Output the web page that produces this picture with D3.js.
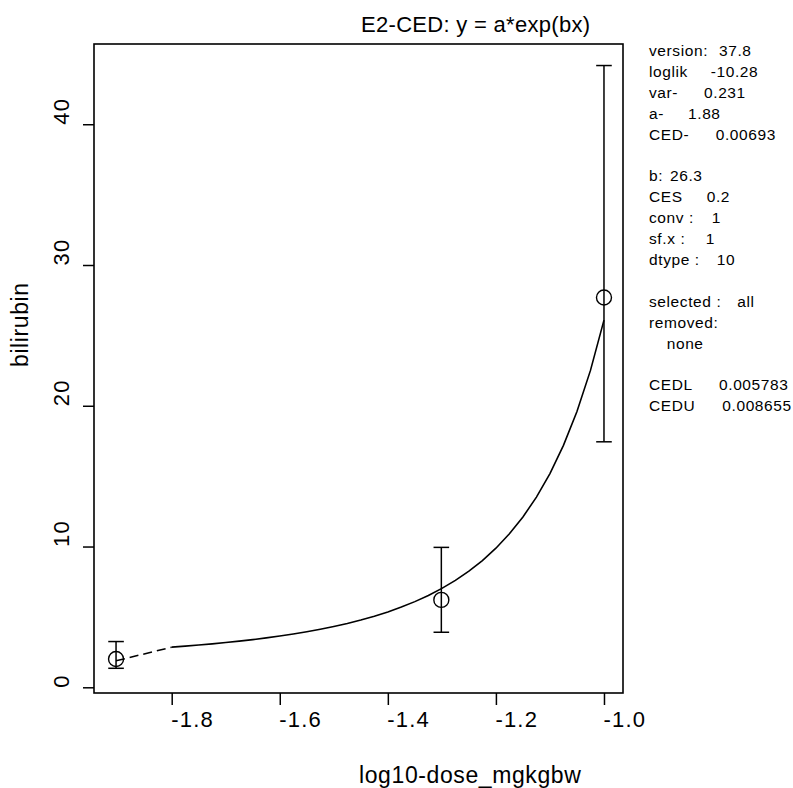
<!DOCTYPE html>
<html><head><meta charset="utf-8">
<script src="https://cdn.jsdelivr.net/npm/d3@7"></script>
<style>
body{margin:0;background:#fff}
text{font-family:"Liberation Sans",Arial,Helvetica,sans-serif;fill:#000}
</style>
</head><body>
<svg id="chart" width="793" height="788"></svg>
<script>
// ---- data ----
const obsLogDose = [-1.903, -1.301, -1.0];
const obsMean    = [2.01, 6.21, 27.69];
const obsLower   = [1.35, 3.91, 17.44];
const obsUpper   = [3.25, 9.94, 44.17];

const curveLogDose = [-1.800,-1.775,-1.750,-1.725,-1.700,-1.675,-1.650,-1.625,-1.600,-1.575,-1.550,-1.525,-1.500,-1.475,-1.450,-1.425,-1.400,-1.375,-1.350,-1.325,-1.300,-1.275,-1.250,-1.225,-1.200,-1.175,-1.150,-1.125,-1.100,-1.075,-1.050,-1.025,-1.000];
const curveValue   = [2.852,2.924,3.001,3.085,3.177,3.278,3.387,3.508,3.640,3.785,3.945,4.122,4.319,4.537,4.780,5.052,5.356,5.699,6.086,6.525,7.024,7.595,8.250,9.005,9.882,10.903,12.100,13.511,15.186,17.188,19.594,22.514,26.083];

const dashLogDose = [-1.903, -1.800];
const dashValue   = [1.88, 2.852];

const xTicks = [-1.8, -1.6, -1.4, -1.2, -1.0];
const xTickLabels = ["-1.8", "-1.6", "-1.4", "-1.2", "-1.0"];
const yTicks = [0, 10, 20, 30, 40];
const yTickLabels = ["0", "10", "20", "30", "40"];

const titleText = "E2-CED: y = a*exp(bx)";
const xLabel = "log10-dose_mgkgbw";
const yLabel = "bilirubin";

const panelLabels = ["version:", "loglik", "var-", "a-", "CED-", "", "b:", "CES", "conv :", "sf.x :", "dtype :", "", "selected :", "removed:", "none", "", "CEDL", "CEDU"];
const panelValues = ["37.8", "-10.28", "0.231", "1.88", "0.00693", "", "26.3", "0.2", "1", "1", "10", "", "all", "", "", "", "0.005783", "0.008655"];

// ---- layout ----
const box = {left: 94, top: 44, right: 623, bottom: 693};
const panelX = 649, panelY0 = 56, panelDY = 20.9;
const panelValueX = [719, 710.7, 704, 688, 715.7, 0, 670, 706.7, 711.7, 705.7, 716.7, 0, 737.3, 0, 0, 0, 719, 722.3];
const panelLabelX = [649,649,649,649,649,649,649,649,649,649,649,649,649,649,666.7,649,649,649];

const svg = d3.select("#chart");

const x = d3.scaleLinear().domain([-1.9438, -0.9648]).range([box.left, box.right]);
const y = d3.scaleLinear().domain([-0.405, 45.7]).range([box.bottom, box.top]);

// x axis
const xAxis = svg.append("g").attr("transform", `translate(0,${box.bottom})`)
  .call(d3.axisBottom(x).tickValues(xTicks).tickSize(12).tickFormat((d,i)=>xTickLabels[i]));
xAxis.select(".domain").remove();
xAxis.selectAll("line").attr("stroke", "#000").attr("stroke-width", 1.5);
xAxis.selectAll("text").attr("text-anchor", "start").attr("x", -1).attr("y", 34).attr("dy", null)
  .style("font-size", "22px").style("letter-spacing", "1.2px").attr("fill", "#000");

// y axis
const yAxis = svg.append("g").attr("transform", `translate(${box.left},0)`)
  .call(d3.axisLeft(y).tickValues(yTicks).tickSize(11).tickFormat((d,i)=>yTickLabels[i]));
yAxis.select(".domain").remove();
yAxis.selectAll("line").attr("stroke", "#000").attr("stroke-width", 1.5);
yAxis.selectAll("text").attr("text-anchor", "start").attr("x", 0).attr("y", -25).attr("dy", null)
  .attr("transform", "rotate(-90)")
  .style("font-size", "22px").style("letter-spacing", "1.2px").attr("fill", "#000");

// box
svg.append("rect").attr("x", box.left).attr("y", box.top)
  .attr("width", box.right - box.left).attr("height", box.bottom - box.top)
  .attr("fill", "none").attr("stroke", "#000").attr("stroke-width", 1.6);

// fitted curve
const line = d3.line().x(d => x(d[0])).y(d => y(d[1]));
svg.append("path").datum(curveLogDose.map((d,i)=>[d, curveValue[i]]))
  .attr("d", line).attr("fill", "none").attr("stroke", "#000").attr("stroke-width", 1.6);

// dashed extension
svg.append("path").datum(dashLogDose.map((d,i)=>[d, dashValue[i]]))
  .attr("d", line).attr("fill", "none").attr("stroke", "#000").attr("stroke-width", 1.5)
  .attr("stroke-dasharray", "9,5");

// error bars
const capW = 7.8;
const eb = svg.append("g").attr("stroke", "#000").attr("stroke-width", 1.5);
obsLogDose.forEach((d,i) => {
  const cx = x(d);
  eb.append("line").attr("x1", cx).attr("x2", cx).attr("y1", y(obsLower[i])).attr("y2", y(obsUpper[i]));
  eb.append("line").attr("x1", cx-capW).attr("x2", cx+capW).attr("y1", y(obsLower[i])).attr("y2", y(obsLower[i]));
  eb.append("line").attr("x1", cx-capW).attr("x2", cx+capW).attr("y1", y(obsUpper[i])).attr("y2", y(obsUpper[i]));
});

// points
svg.append("g").selectAll("circle").data(obsLogDose).join("circle")
  .attr("cx", d => x(d)).attr("cy", (d,i) => y(obsMean[i])).attr("r", 7.5)
  .attr("fill", "none").attr("stroke", "#000").attr("stroke-width", 1.4);

// title
svg.append("text").attr("x", 361).attr("y", 32).style("font-size", "22px").style("letter-spacing", "0.3px")
  .text(titleText);

// axis labels
svg.append("text").attr("x", 359).attr("y", 783).style("font-size", "23px").style("letter-spacing", "0.6px")
  .text(xLabel);
svg.append("text").attr("transform", "translate(28,367) rotate(-90)").attr("text-anchor", "start")
  .style("font-size", "23px").style("letter-spacing", "0.6px").text(yLabel);

// info panel
const panel = svg.append("g").style("font-size", "15.5px").style("letter-spacing", "0.6px");
panelLabels.forEach((lab, i) => {
  if (!lab && !panelValues[i]) return;
  const t = panel.append("text").attr("y", panelY0 + i * panelDY);
  t.append("tspan").attr("x", panelLabelX[i]).text(lab);
  if (panelValues[i]) t.append("tspan").attr("x", panelValueX[i]).text(panelValues[i]);
});
</script>
</body></html>
